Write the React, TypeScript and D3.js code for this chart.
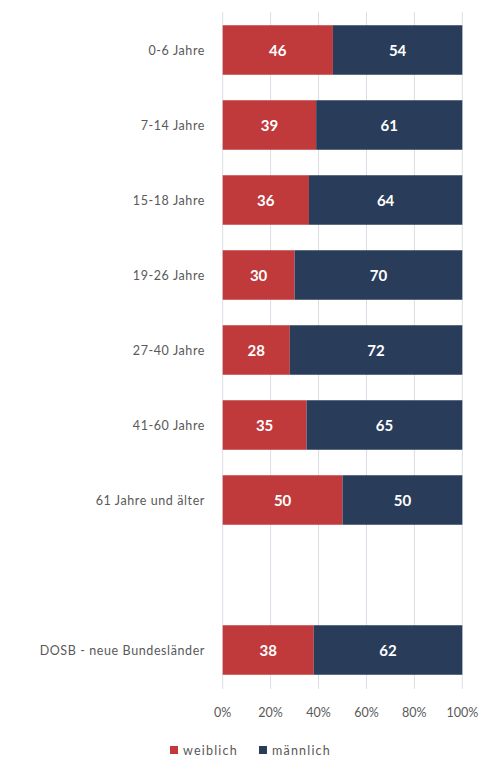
import React from "react";
import * as d3 from "d3";

const categories = [
  "0-6 Jahre",
  "7-14 Jahre",
  "15-18 Jahre",
  "19-26 Jahre",
  "27-40 Jahre",
  "41-60 Jahre",
  "61 Jahre und älter",
  "",
  "DOSB - neue Bundesländer",
];
const weiblich = [46, 39, 36, 30, 28, 35, 50, null, 38];
const maennlich = [54, 61, 64, 70, 72, 65, 50, null, 62];
const xTicks = [0, 20, 40, 60, 80, 100];
const seriesNames = ["weiblich", "männlich"];
const colors = ["#C0393B", "#293D5A"];

const W = 482;
const H = 757;
const FONT = "Lato, 'Open Sans', sans-serif";

export default function App() {
  const x = d3.scaleLinear().domain([0, 100]).range([222.7, 462.3]);
  const y = d3
    .scaleBand<number>()
    .domain(categories.map((_, i) => i))
    .range([12.5, 687.5])
    .paddingInner(0.34)
    .paddingOuter(0.17);

  return (
    <svg
      width={W}
      height={H}
      style={{ position: "absolute", left: 0, top: 0, background: "#fff" }}
    >
      {xTicks.map((t) => (
        <line
          key={"g" + t}
          x1={x(t)}
          x2={x(t)}
          y1={12}
          y2={689}
          stroke="#D9DEE6"
          strokeWidth={1}
        />
      ))}
      {categories.map((c, i) => {
        const w = weiblich[i];
        const m = maennlich[i];
        const yy = y(i)!;
        const bh = y.bandwidth();
        return (
          <g key={i}>
            <text
              x={205}
              y={yy + bh / 2}
              textAnchor="end"
              dominantBaseline="central"
              fontFamily={FONT}
              fontSize={12.5}
              letterSpacing={0.6}
              fill="#595959"
            >
              {c}
            </text>
            {w != null && m != null && (
              <>
                <rect x={x(0)} y={yy} width={x(w) - x(0)} height={bh} fill={colors[0]} />
                <rect x={x(w)} y={yy} width={x(w + m) - x(w)} height={bh} fill={colors[1]} />
                <text
                  x={(x(0) + x(w)) / 2}
                  y={yy + bh / 2}
                  textAnchor="middle"
                  dominantBaseline="central"
                  fontFamily={FONT}
                  fontWeight="bold"
                  fontSize={15}
                  fill="#fff"
                >
                  {w}
                </text>
                <text
                  x={(x(w) + x(w + m)) / 2}
                  y={yy + bh / 2}
                  textAnchor="middle"
                  dominantBaseline="central"
                  fontFamily={FONT}
                  fontWeight="bold"
                  fontSize={15}
                  fill="#fff"
                >
                  {m}
                </text>
              </>
            )}
          </g>
        );
      })}
      {xTicks.map((t) => (
        <text
          key={"t" + t}
          x={x(t)}
          y={712}
          textAnchor="middle"
          dominantBaseline="central"
          fontFamily={FONT}
          fontSize={12.5}
          fill="#595959"
        >
          {t + "%"}
        </text>
      ))}
      {seriesNames.map((s, i) => {
        const lx = [170, 259][i];
        return (
          <g key={s}>
            <rect x={lx} y={746} width={8} height={8} fill={colors[i]} />
            <text
              x={lx + 13}
              y={750}
              dominantBaseline="central"
              fontFamily={FONT}
              fontSize={12.5}
              letterSpacing={1.2}
              fill="#595959"
            >
              {s}
            </text>
          </g>
        );
      })}
    </svg>
  );
}
